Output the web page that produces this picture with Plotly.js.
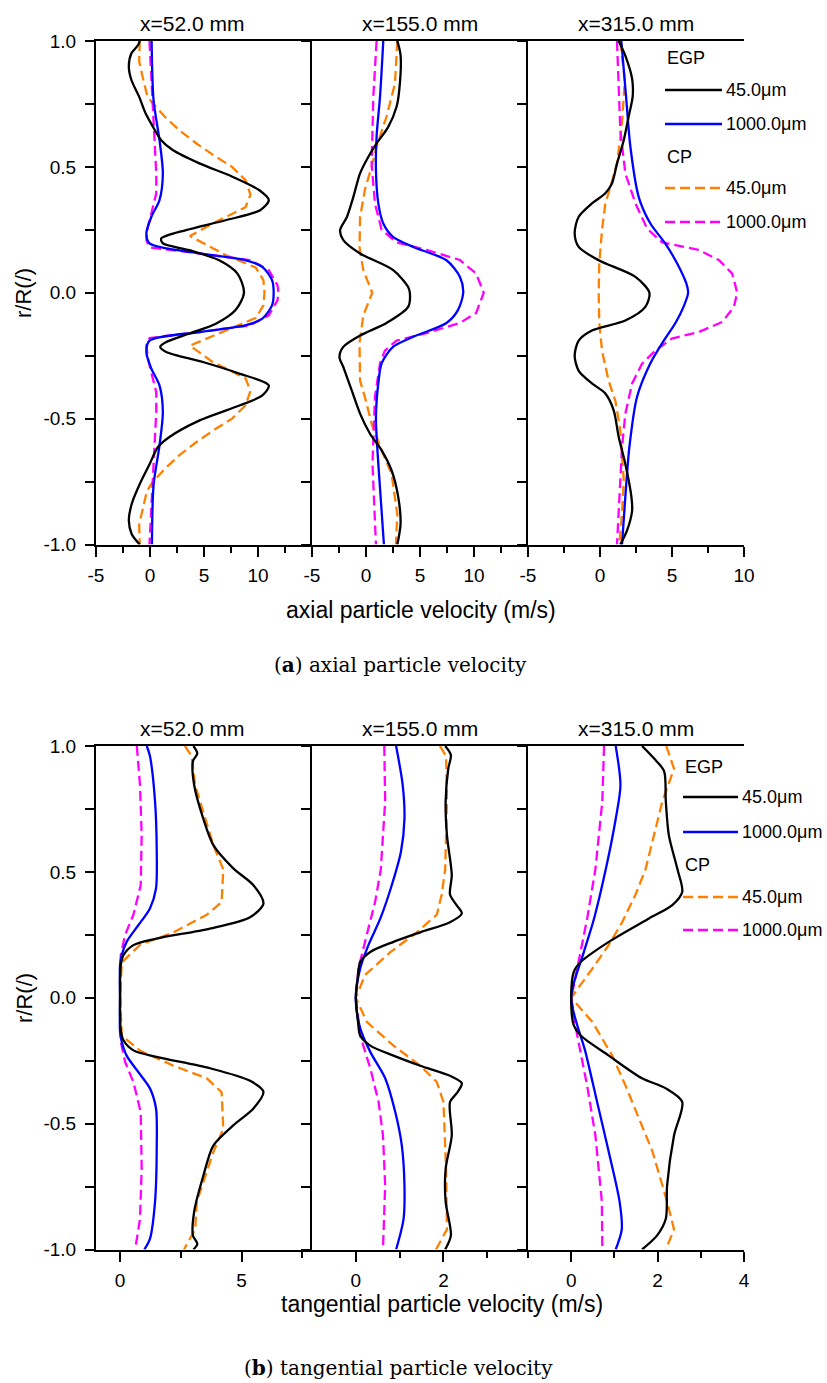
<!DOCTYPE html>
<html>
<head>
<meta charset="utf-8">
<script src="https://cdn.plot.ly/plotly-3.0.1.min.js"></script>
<style>html,body{margin:0;padding:0;background:#fff;}#chart{width:827px;height:1383px;}</style>
</head>
<body>
<div id="chart"></div>
<script>
// ---------------- DATA (r/R on y, velocity on x) ----------------
// (a) axial particle velocity, x = 52.0 mm
const a52_egp45_r = [1.0,0.984,0.951,0.898,0.845,0.779,0.712,0.659,0.606,0.567,0.514,0.461,0.408,0.368,0.328,0.288,0.249,0.215,0.196,0.169,0.129,0.076,0.0,-0.07,-0.123,-0.162,-0.196,-0.215,-0.235,-0.275,-0.32,-0.368,-0.408,-0.454,-0.507,-0.573,-0.613,-0.68,-0.76,-0.84,-0.905,-0.958,-1.0];
const a52_egp45_v = [-0.95,-1.1,-1.72,-1.96,-1.72,-1.01,-0.4,0.28,1.04,2.1,4.57,7.63,10.1,11.0,10.2,7.0,3.34,1.04,1.2,3.65,6.4,8.1,8.7,7.9,6.1,3.65,1.5,0.95,1.5,4.9,8.2,11.0,10.4,7.9,4.6,1.8,0.74,-0.03,-0.95,-1.7,-1.96,-1.7,-0.95];
const a52_egp1000_r = [1.0,0.765,0.606,0.474,0.368,0.301,0.235,0.196,0.156,0.13,0.103,0.05,0.0,-0.05,-0.103,-0.13,-0.156,-0.19,-0.235,-0.301,-0.368,-0.474,-0.606,-0.765,-1.0];
const a52_egp1000_v = [0.15,0.33,0.88,1.19,0.88,0.12,-0.34,-0.04,4.6,8.8,10.4,11.3,11.45,11.3,10.4,8.8,4.6,-0.04,-0.34,0.12,0.88,1.19,0.88,0.33,0.18];
const a52_cp45_r = [1.0,0.92,0.86,0.79,0.76,0.70,0.646,0.593,0.54,0.50,0.447,0.39,0.34,0.275,0.225,0.15,0.10,0.05,0.0,-0.05,-0.10,-0.15,-0.21,-0.275,-0.34,-0.39,-0.447,-0.50,-0.54,-0.593,-0.646,-0.70,-0.76,-0.79,-0.86,-0.92,-1.0];
const a52_cp45_v = [-0.95,-1.0,-0.7,-0.3,0.1,1.35,2.7,4.3,6.1,7.6,8.85,9.3,8.85,5.8,3.7,7.0,9.8,10.5,10.6,10.5,9.8,7.0,3.7,5.8,8.85,9.3,8.85,7.6,6.1,4.3,2.7,1.35,0.1,-0.3,-0.7,-1.0,-0.95];
const a52_cp1000_r = [1.0,0.86,0.765,0.606,0.474,0.395,0.316,0.26,0.209,0.18,0.156,0.13,0.09,0.03,0.0,-0.03,-0.09,-0.13,-0.156,-0.18,-0.209,-0.26,-0.316,-0.395,-0.474,-0.606,-0.765,-0.86,-1.0];
const a52_cp1000_v = [-0.05,0.12,0.27,0.42,0.58,0.58,0.12,-0.2,-0.34,-0.04,4.6,9.2,11.0,11.8,11.9,11.8,11.0,9.2,4.6,-0.04,-0.34,-0.2,0.12,0.58,0.58,0.42,0.27,0.12,-0.05];

// (a) axial particle velocity, x = 155.0 mm
const a155_egp45_r = [1.0,0.944,0.805,0.739,0.659,0.593,0.54,0.474,0.381,0.30,0.249,0.209,0.156,0.09,0.023,0.0,-0.056,-0.12,-0.17,-0.215,-0.255,-0.295,-0.388,-0.48,-0.56,-0.626,-0.706,-0.81,-0.918,-1.0];
const a155_egp45_v = [2.9,3.2,3.08,2.83,2.06,0.98,0.22,-0.55,-1.17,-1.78,-2.4,-2.1,-0.55,2.52,3.9,4.06,3.9,1.9,-0.55,-2.1,-2.46,-2.1,-1.32,-0.55,0.37,1.45,2.37,2.98,3.2,2.9];
const a155_egp1000_r = [1.0,0.78,0.62,0.487,0.355,0.275,0.222,0.182,0.129,0.063,0.0,-0.07,-0.12,-0.175,-0.215,-0.28,-0.36,-0.494,-0.68,-1.0];
const a155_egp1000_v = [1.6,1.3,0.98,0.92,1.14,1.6,2.5,4.37,7.45,8.7,9.0,8.5,7.45,4.37,2.5,1.45,1.14,0.92,1.14,1.66];
const a155_cp45_r = [1.0,0.83,0.70,0.58,0.50,0.41,0.30,0.18,0.09,0.0,-0.09,-0.2,-0.35,-0.414,-0.52,-0.626,-0.72,-0.88,-1.0];
const a155_cp45_v = [2.9,2.68,1.9,0.98,0.52,-0.1,-0.55,-0.6,-0.25,0.58,-0.25,-0.6,-0.55,-0.1,0.52,1.45,2.37,2.9,2.77];
const a155_cp1000_r = [1.0,0.78,0.51,0.355,0.25,0.2,0.17,0.13,0.076,0.0,-0.08,-0.12,-0.16,-0.19,-0.23,-0.28,-0.414,-0.68,-1.0];
const a155_cp1000_v = [0.98,0.68,0.52,0.83,1.45,2.83,5.6,8.7,10.2,10.9,10.2,8.7,5.6,2.83,1.75,1.3,0.83,0.6,0.92];

// (a) axial particle velocity, x = 315.0 mm
const a315_egp45_r = [1.0,0.94,0.85,0.78,0.70,0.606,0.513,0.434,0.395,0.355,0.302,0.236,0.182,0.129,0.063,0.0,-0.056,-0.11,-0.15,-0.19,-0.25,-0.31,-0.36,-0.40,-0.467,-0.573,-0.68,-0.81,-0.865,-0.944,-1.0];
const a315_egp45_v = [1.3,1.77,2.23,2.27,1.99,1.65,1.18,0.83,0.37,-0.56,-1.48,-1.76,-1.48,-0.09,2.46,3.43,3.15,1.76,-0.56,-1.48,-1.76,-1.48,-0.56,0.37,0.95,1.3,1.76,2.18,2.23,1.88,1.41];
const a315_egp1000_r = [1.0,0.78,0.58,0.38,0.275,0.195,0.116,0.036,0.0,-0.056,-0.12,-0.19,-0.28,-0.414,-0.613,-0.81,-1.0];
const a315_egp1000_v = [1.48,1.81,2.11,2.69,3.5,4.54,5.36,6.0,6.12,5.8,5.24,4.43,3.5,2.57,2.04,1.76,1.53];
const a315_cp45_r = [1.0,0.845,0.673,0.514,0.42,0.355,0.25,0.116,0.0,-0.12,-0.23,-0.35,-0.43,-0.547,-0.745,-0.878,-1.0];
const a315_cp45_v = [1.41,1.72,1.53,1.18,0.72,0.37,0.14,-0.05,-0.09,-0.05,0.14,0.6,1.07,1.41,1.65,1.53,1.34];
const a315_cp1000_r = [1.0,0.646,0.474,0.355,0.255,0.2,0.17,0.13,0.076,0.0,-0.056,-0.116,-0.156,-0.182,-0.229,-0.282,-0.36,-0.48,-0.613,-0.81,-1.0];
const a315_cp1000_v = [1.18,1.41,1.76,2.46,3.27,4.31,6.86,8.25,9.18,9.53,9.3,8.49,6.86,5.0,3.85,2.92,2.23,1.76,1.53,1.34,1.18];

// (b) tangential particle velocity, x = 52.0 mm
const t52_egp45_r = [1.0,0.97,0.94,0.845,0.71,0.606,0.514,0.447,0.374,0.32,0.275,0.235,0.209,0.169,0.13,0.07,0.0,-0.07,-0.13,-0.169,-0.209,-0.235,-0.28,-0.33,-0.374,-0.44,-0.507,-0.587,-0.706,-0.85,-0.944,-0.978,-1.0];
const t52_egp45_v = [3.02,3.18,3.0,3.05,3.43,3.84,4.66,5.49,5.9,5.35,3.7,1.5,0.55,0.14,0.03,0.0,0.0,0.0,0.03,0.14,0.55,1.5,3.7,5.35,5.9,5.49,4.66,3.84,3.43,3.05,3.0,3.18,3.02];
const t52_egp1000_r = [1.0,0.96,0.78,0.58,0.434,0.355,0.288,0.222,0.17,0.13,0.0,-0.136,-0.175,-0.23,-0.295,-0.36,-0.44,-0.587,-0.81,-0.958,-1.0];
const t52_egp1000_v = [1.1,1.23,1.44,1.51,1.48,1.23,0.75,0.27,0.07,0.0,0.0,0.0,0.07,0.27,0.75,1.23,1.48,1.51,1.44,1.23,1.0];
const t52_cp45_r = [1.0,0.96,0.845,0.606,0.51,0.38,0.33,0.26,0.21,0.14,0.0,-0.15,-0.21,-0.27,-0.32,-0.375,-0.52,-0.613,-0.81,-0.92,-1.0];
const t52_cp45_v = [2.67,2.95,3.09,3.84,4.25,4.18,3.57,2.2,0.82,0.07,0.0,0.07,0.82,2.2,3.57,4.18,4.25,3.84,3.16,3.09,2.63];
const t52_cp1000_r = [1.0,0.845,0.646,0.447,0.33,0.25,0.17,0.0,-0.175,-0.255,-0.335,-0.454,-0.68,-0.88,-1.0];
const t52_cp1000_v = [0.69,0.82,0.89,0.85,0.55,0.21,0.03,0.0,0.03,0.21,0.55,0.85,0.89,0.82,0.62];

// (b) tangential particle velocity, x = 155.0 mm
const t155_egp45_r = [1.0,0.964,0.91,0.78,0.646,0.487,0.41,0.368,0.335,0.30,0.26,0.222,0.182,0.142,0.09,0.0,-0.096,-0.15,-0.19,-0.23,-0.27,-0.31,-0.34,-0.38,-0.414,-0.547,-0.68,-0.81,-0.944,-1.0];
const t155_egp45_v = [2.04,2.17,2.11,2.05,2.08,2.19,2.15,2.3,2.42,2.15,1.47,0.86,0.33,0.1,0.05,0.0,0.05,0.1,0.33,0.86,1.47,2.15,2.42,2.3,2.15,2.19,2.05,2.05,2.17,2.04];
const t155_egp1000_r = [1.0,0.845,0.71,0.58,0.447,0.315,0.21,0.116,0.0,-0.12,-0.215,-0.32,-0.454,-0.587,-0.745,-0.878,-1.0];
const t155_egp1000_v = [0.92,1.07,1.11,1.03,0.82,0.56,0.29,0.1,0.0,0.1,0.33,0.67,0.9,1.05,1.11,1.09,0.92];
const t155_cp45_r = [1.0,0.96,0.78,0.51,0.41,0.33,0.26,0.18,0.09,0.0,-0.096,-0.19,-0.27,-0.335,-0.414,-0.68,-0.92,-1.0];
const t155_cp45_v = [1.92,2.06,2.08,2.04,1.96,1.85,1.39,0.78,0.21,0.0,0.25,0.86,1.47,1.85,2.0,2.06,2.08,1.83];
const t155_cp1000_r = [1.0,0.78,0.51,0.38,0.25,0.116,0.0,-0.15,-0.28,-0.414,-0.547,-0.745,-1.0];
const t155_cp1000_v = [0.65,0.67,0.57,0.44,0.25,0.06,0.0,0.1,0.33,0.52,0.62,0.67,0.62];

// (b) tangential particle velocity, x = 315.0 mm
const t315_egp45_r = [1.0,0.95,0.9,0.78,0.646,0.51,0.42,0.368,0.315,0.222,0.142,0.103,0.0,-0.11,-0.15,-0.23,-0.32,-0.36,-0.414,-0.547,-0.745,-0.878,-0.944,-1.0];
const t315_egp45_v = [1.64,1.92,2.15,2.19,2.26,2.46,2.57,2.34,1.8,0.87,0.22,0.06,0.0,0.06,0.22,0.87,1.64,2.19,2.57,2.38,2.22,2.19,1.99,1.64];
const t315_egp1000_r = [1.0,0.845,0.71,0.51,0.315,0.18,0.0,-0.215,-0.414,-0.613,-0.81,-0.92,-1.0];
const t315_egp1000_v = [1.03,1.14,1.03,0.8,0.53,0.29,0.0,0.33,0.6,0.87,1.12,1.17,1.03];
const t315_cp45_r = [1.0,0.91,0.78,0.646,0.51,0.41,0.30,0.21,0.116,0.0,-0.096,-0.23,-0.35,-0.48,-0.61,-0.745,-0.81,-0.92,-1.0];
const t315_cp45_v = [2.2,2.38,2.11,1.92,1.72,1.49,1.18,0.87,0.49,0.0,0.49,0.95,1.26,1.57,1.88,2.11,2.22,2.38,2.19];
const t315_cp1000_r = [1.0,0.78,0.51,0.315,0.116,0.0,-0.15,-0.35,-0.547,-0.81,-1.0];
const t315_cp1000_v = [0.76,0.72,0.56,0.37,0.14,0.0,0.14,0.37,0.56,0.71,0.72];

// Labels
const panelTitles = ['x=52.0 mm','x=155.0 mm','x=315.0 mm'];
const seriesNames = ['45.0\u03bcm','1000.0\u03bcm'];
const groupNames = ['EGP','CP'];
const yTickVals = [-1,-0.75,-0.5,-0.25,0,0.25,0.5,0.75,1];
const yTickText = ['-1.0','','-0.5','','0.0','','0.5','','1.0'];
const axialTicks = [-5,0,5,10];
const axialMinor = [-2.5,2.5,7.5,12.5];
const tang52Ticks = [0,5];
const tang52Minor = [2.5,7.5];
const tangTicks = [0,2,4];
const tangMinor = [-1,1,3];

// ---------------- STYLE / LAYOUT ----------------
const W = 827, H = 1383;
const FONT = '"Liberation Sans", Arial, sans-serif';
const px = x => x / W;
const py = y => 1 - y / H;
const colL = [96, 312, 528, 744];
const topY = [41, 544.5], botY = [746, 1249.5];

const styles = {
  egp45:   {color:'#000000', width:2.3, shape:'spline', smoothing:0.8},
  egp1000: {color:'#0000ff', width:2.3, shape:'spline', smoothing:0.8},
  cp45:    {color:'#ff8000', width:2.3, dash:'10px,5px'},
  cp1000:  {color:'#ff00ff', width:2.3, dash:'10px,5px'}
};

function tr(v, r, n, key) {
  return {x: v, y: r, xaxis: 'x' + (n === 1 ? '' : n), yaxis: 'y' + (n === 1 ? '' : n),
          type: 'scatter', mode: 'lines', line: styles[key], hoverinfo: 'skip', showlegend: false};
}

const data = [
  tr(a52_cp45_v, a52_cp45_r, 1, 'cp45'), tr(a52_cp1000_v, a52_cp1000_r, 1, 'cp1000'),
  tr(a52_egp1000_v, a52_egp1000_r, 1, 'egp1000'), tr(a52_egp45_v, a52_egp45_r, 1, 'egp45'),
  tr(a155_cp45_v, a155_cp45_r, 2, 'cp45'), tr(a155_cp1000_v, a155_cp1000_r, 2, 'cp1000'),
  tr(a155_egp1000_v, a155_egp1000_r, 2, 'egp1000'), tr(a155_egp45_v, a155_egp45_r, 2, 'egp45'),
  tr(a315_cp45_v, a315_cp45_r, 3, 'cp45'), tr(a315_cp1000_v, a315_cp1000_r, 3, 'cp1000'),
  tr(a315_egp1000_v, a315_egp1000_r, 3, 'egp1000'), tr(a315_egp45_v, a315_egp45_r, 3, 'egp45'),
  tr(t52_cp45_v, t52_cp45_r, 4, 'cp45'), tr(t52_cp1000_v, t52_cp1000_r, 4, 'cp1000'),
  tr(t52_egp1000_v, t52_egp1000_r, 4, 'egp1000'), tr(t52_egp45_v, t52_egp45_r, 4, 'egp45'),
  tr(t155_cp45_v, t155_cp45_r, 5, 'cp45'), tr(t155_cp1000_v, t155_cp1000_r, 5, 'cp1000'),
  tr(t155_egp1000_v, t155_egp1000_r, 5, 'egp1000'), tr(t155_egp45_v, t155_egp45_r, 5, 'egp45'),
  tr(t315_cp45_v, t315_cp45_r, 6, 'cp45'), tr(t315_cp1000_v, t315_cp1000_r, 6, 'cp1000'),
  tr(t315_egp1000_v, t315_egp1000_r, 6, 'egp1000'), tr(t315_egp45_v, t315_egp45_r, 6, 'egp45')
];

const tickFont = {family: FONT, size: 19, color: '#000'};
function xax(n, col, range, ticks, minor) {
  return {
    domain: [px(colL[col]), px(colL[col + 1])], range: range, anchor: 'y' + (n === 1 ? '' : n),
    showline: true, linecolor: '#000', linewidth: 2, mirror: true,
    ticks: 'outside', ticklen: 10, tickwidth: 2, tickcolor: '#000',
    tickmode: 'array', tickvals: ticks, ticktext: ticks.map(String),
    minor: {tickmode: 'array', tickvals: minor, ticks: 'outside', ticklen: 6, tickwidth: 2, tickcolor: '#000'},
    ticklabelstandoff: 3,
    showgrid: false, zeroline: false, tickfont: tickFont, fixedrange: true
  };
}
function yax(n, col, rows, labels) {
  return {
    domain: [py(rows[1]), py(rows[0])], range: [-1, 1], anchor: 'x' + (n === 1 ? '' : n),
    showline: true, linecolor: '#000', linewidth: 2, mirror: false,
    ticks: 'outside', ticklen: 9, tickwidth: 2, tickcolor: '#000',
    tickmode: 'array', tickvals: yTickVals, ticktext: yTickText,
    showticklabels: labels, ticklabelstandoff: 5,
    showgrid: false, zeroline: false, tickfont: tickFont, fixedrange: true
  };
}

const layout = {
  width: W, height: H, margin: {l: 0, r: 0, t: 0, b: 0},
  paper_bgcolor: '#fff', plot_bgcolor: 'rgba(0,0,0,0)', showlegend: false,
  font: {family: FONT, color: '#000'},
  xaxis:  xax(1, 0, [-5, 15], axialTicks, axialMinor),
  xaxis2: xax(2, 1, [-5, 15], axialTicks, axialMinor),
  xaxis3: xax(3, 2, [-5, 10], axialTicks, axialMinor.slice(0, 3)),
  xaxis4: xax(4, 0, [-0.99, 7.9], tang52Ticks, tang52Minor),
  xaxis5: xax(5, 1, [-1, 3.93], tangTicks.slice(0, 2), tangMinor.slice(1)),
  xaxis6: xax(6, 2, [-1, 4], tangTicks, tangMinor),
  yaxis:  yax(1, 0, topY, true),
  yaxis2: yax(2, 1, topY, false),
  yaxis3: yax(3, 2, topY, false),
  yaxis4: yax(4, 0, botY, true),
  yaxis5: yax(5, 1, botY, false),
  yaxis6: yax(6, 2, botY, false),
  shapes: [], annotations: []
};

function ann(text, x, y, size, opts) {
  return Object.assign({text: text, x: px(x), y: py(y), xref: 'paper', yref: 'paper', showarrow: false,
    xanchor: 'center', yanchor: 'middle', font: {family: FONT, size: size, color: '#000'}}, opts || {});
}

// panel titles
const titleX = [192, 420, 636];
[23, 728].forEach(yy => panelTitles.forEach((t, i) => layout.annotations.push(ann(t, titleX[i], yy, 21))));
// y-axis titles
layout.annotations.push(ann('r/R(/)', 24, 293, 22, {textangle: -90}));
layout.annotations.push(ann('r/R(/)', 24, 998, 22, {textangle: -90}));
// x-axis titles
layout.annotations.push(ann('axial particle velocity (m/s)', 421, 610, 23));
layout.annotations.push(ann('tangential particle velocity (m/s)', 442, 1304, 23));
// captions
const SERIF = '"DejaVu Serif", "Liberation Serif", serif';
layout.annotations.push(ann('(<b>a</b>) axial particle velocity', 400, 665, 20, {font: {family: SERIF, size: 20, color: '#000'}}));
layout.annotations.push(ann('(<b>b</b>) tangential particle velocity', 398, 1368, 20, {font: {family: SERIF, size: 20, color: '#000'}}));

// legends (inside right panels)
function legend(x0, x1, yG1, yL) {
  const keys = [['egp45', 'egp1000'], ['cp45', 'cp1000']];
  groupNames.forEach((g, gi) => {
    layout.annotations.push(ann(g, x0, yG1[gi], 18, {xanchor: 'left'}));
    keys[gi].forEach((k, si) => {
      const yy = yL[gi][si];
      const st = styles[k];
      layout.shapes.push({type: 'line', xref: 'paper', yref: 'paper', x0: px(x0), x1: px(x1), y0: py(yy), y1: py(yy),
        line: {color: st.color, width: 2.3, dash: st.dash || 'solid'}});
      layout.annotations.push(ann(seriesNames[si], x1 + 2, yy, 18, {xanchor: 'left'}));
    });
  });
}
legend(665, 722, [58, 157], [[90, 124], [188, 222]]);
legend(683, 738, [767, 865], [[797, 832], [897, 930]]);

Plotly.newPlot('chart', data, layout, {staticPlot: true, displayModeBar: false});
</script>
</body>
</html>
